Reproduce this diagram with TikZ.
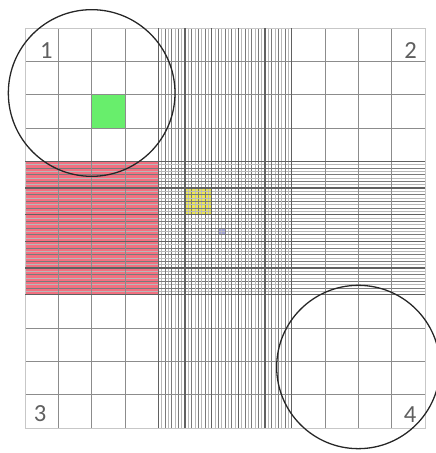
\documentclass[tikz,border=0pt]{standalone}
\usepackage{fontspec}
\setmainfont{Carlito}
\usepackage{tikz}
\definecolor{cellpink}{RGB}{242,112,128}
\definecolor{cellgreen}{RGB}{104,238,108}
\definecolor{cellyellow}{RGB}{238,232,84}
\definecolor{cellblue}{RGB}{110,110,200}
\definecolor{labelgray}{RGB}{95,95,95}

\begin{document}
\begin{tikzpicture}[x=1cm, y=1cm, line width=0.6pt,
  coarse/.style={black!45, line width=0.8pt},
  heavy/.style={black!62, line width=1.2pt},
  fine/.style={black!52, line width=0.6pt},
  faint/.style={black!28, line width=0.5pt},
  zone/.style={black!85, line width=1.1pt},
  num/.style={text=labelgray, font=\fontsize{21}{24}\selectfont, inner sep=0pt}]
\useasboundingbox (-0.75,-0.75) rectangle (12.33,12.84);
\fill[cellpink] (0,4) rectangle (4,8);
\fill[cellgreen] (2,9) rectangle (3,10);
\fill[cellyellow] (4.8,6.4) rectangle (5.6,7.2);
\fill[cellblue, opacity=0.6] (5.8,5.8) rectangle (6,6);
% ruling of the central square, carried out to the edges
\foreach \k in {0,...,4}{
  \foreach \j in {0.1,0.3,0.5,0.7}{
    \draw[faint] (4+0.8*\k+\j,0) -- ++(0,12);
    \draw[faint] (0,4+0.8*\k+\j) -- ++(12,0);
  }
  \foreach \j in {0.2,0.4,0.6}{
    \draw[fine] (4+0.8*\k+\j,0) -- ++(0,12);
    \draw[fine] (0,4+0.8*\k+\j) -- ++(12,0);
  }
}
\foreach \i in {1,2,3,9,10,11}{
  \draw[coarse] (\i,0) -- ++(0,12);
  \draw[coarse] (0,\i) -- ++(12,0);
}
\draw[black!22, line width=0.8pt] (0,0) rectangle (12,12);
\foreach \k in {0,...,5}{
  \draw[heavy] (4+0.8*\k,0) -- ++(0,12);
  \draw[heavy] (0,4+0.8*\k) -- ++(12,0);
}
\draw[zone] (2,10.05) circle (2.5);
\draw[zone] (10,1.83) circle (2.45);
\node[num] (n1) at (0.64,11.32) {1};
\node[num] (n2) at (11.57,11.32) {2};
\node[num] (n3) at (0.45,0.42) {3};
\node[num] (n4) at (11.55,0.4) {4};
\end{tikzpicture}
\end{document}
